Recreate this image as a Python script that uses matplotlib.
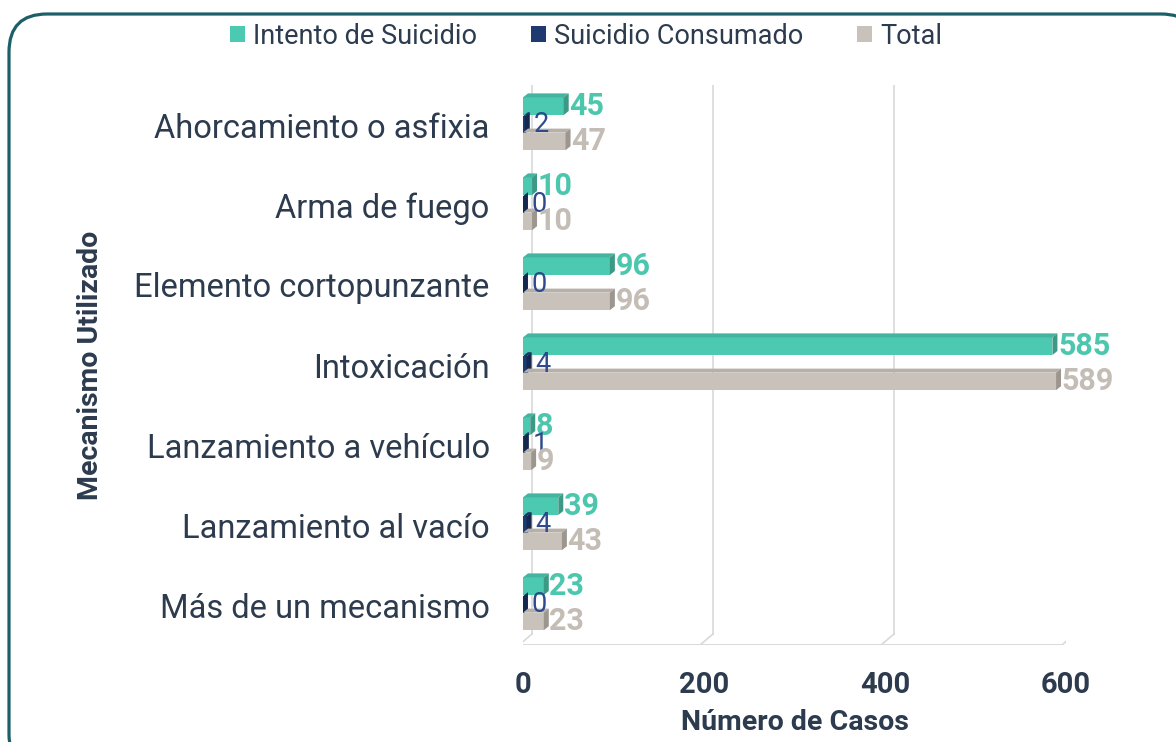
import matplotlib
matplotlib.use("Agg")
import matplotlib.pyplot as plt
from matplotlib.patches import Polygon, FancyBboxPatch, Patch
from matplotlib.transforms import offset_copy
import numpy as np

plt.rcParams['font.family'] = ['Roboto', 'DejaVu Sans']

mecanismos = ["Ahorcamiento o asfixia", "Arma de fuego", "Elemento cortopunzante",
              "Intoxicación", "Lanzamiento a vehículo", "Lanzamiento al vacío",
              "Más de un mecanismo"]
intento = [45, 10, 96, 585, 8, 39, 23]
consumado = [2, 0, 0, 4, 1, 4, 0]
total = [47, 10, 96, 589, 9, 43, 23]
series_names = ["Intento de Suicidio", "Suicidio Consumado", "Total"]
xticks = [0, 200, 400, 600]

# front, top, side colours per series, and value-label colour
colores = [
    ("#4cc9b1", "#45b49e", "#3b9a86", "#4cc7ae"),
    ("#1f3a70", "#1a3160", "#15284f", "#2e4a8c"),
    ("#c9c2bb", "#b7b0a9", "#9d968f", "#c4bdb6"),
]
texto = "#2d3b4e"

W, H = 1176, 742
fig = plt.figure(figsize=(W / 100, H / 100), dpi=100)

# rounded frame (inches)
frame = FancyBboxPatch((0.09, -0.3), 11.9, 7.58,
                       boxstyle="round,pad=0,rounding_size=0.38",
                       transform=fig.dpi_scale_trans, facecolor="white",
                       edgecolor="#1d5f68", linewidth=2.3, zorder=-5)
fig.patches.append(frame)

ax = fig.add_axes([523 / W, 97 / H, 543 / W, 560 / H])
ax.set_xlim(0, 600)
ax.set_ylim(len(mecanismos) - 0.5, -0.5)
ax.patch.set_visible(False)
for s in ax.spines.values():
    s.set_visible(False)

# walls of the pseudo 3D box
grid_c = "#d9d9d9"
front = offset_copy(ax.transData, fig, x=-4, y=0, units='dots')
back = offset_copy(ax.transData, fig, x=9, y=11, units='dots')
ybot, ytop = len(mecanismos) - 0.5, -0.5
for xt in xticks:
    ax.plot([xt, xt], [ybot, ytop], color=grid_c, lw=1.2, transform=back, zorder=0)
    p0 = front.transform((xt, ybot))
    p1 = back.transform((xt, ybot))
    ax.plot([p0[0], p1[0]], [p0[1], p1[1]], color=grid_c, lw=1.2,
            transform=None, zorder=0)
ax.plot([0, 600], [ybot, ybot], color=grid_c, lw=1.4, transform=front, zorder=0)
ax.plot([0, 0], [ybot, ytop], color=grid_c, lw=1.2, transform=front, zorder=0)
p0 = front.transform((0, ytop))
p1 = back.transform((0, ytop))
ax.plot([p0[0], p1[0]], [p0[1], p1[1]], color=grid_c, lw=1.2, transform=None, zorder=0)

# bars with depth
ddx = 5.5      # depth in data units (x)
ddy = -0.05    # depth in data units (y, inverted axis)
h = 0.22
offsets = [-0.235, 0.0, 0.205]
y = np.arange(len(mecanismos))
for k, vals in enumerate([intento, consumado, total]):
    fc, tc, sc, lc = colores[k]
    for i, v in enumerate(vals):
        yc = y[i] + offsets[k]
        top, bot = yc - h / 2, yc + h / 2
        ax.barh(yc, v, height=h, color=fc, zorder=2 + k)
        ax.add_patch(Polygon([(0, top), (v, top), (v + ddx, top + ddy), (ddx, top + ddy)],
                             closed=True, facecolor=tc, edgecolor='none', zorder=2 + k))
        ax.add_patch(Polygon([(v, top), (v, bot), (v + ddx, bot + ddy), (v + ddx, top + ddy)],
                             closed=True, facecolor=sc, edgecolor='none', zorder=2 + k))
        ax.annotate(str(v), (v + ddx, yc), xytext=(2.5 if k == 1 else 0.5, 0),
                    textcoords='offset points', va='center', ha='left', color=lc,
                    fontsize=19.5 if k == 1 else 22,
                    fontweight='normal' if k == 1 else 'bold', zorder=10)

ax.set_yticks(y)
ax.set_yticklabels(mecanismos, fontsize=23.5, color=texto)
ax.set_xticks(xticks)
ax.set_xticklabels([str(t) for t in xticks], fontsize=21, fontweight='bold', color=texto)
ax.tick_params(axis='y', length=0, pad=24)
ax.tick_params(axis='x', length=0, pad=19)
ax.set_xlabel("Número de Casos", fontsize=20.5, fontweight='bold', color=texto, labelpad=7)
ax.set_ylabel("Mecanismo Utilizado", fontsize=20.5, fontweight='bold', color=texto, labelpad=22)

handles = [Patch(facecolor=colores[k][0], edgecolor='none') for k in range(3)]
fig.legend(handles, series_names, loc='center', bbox_to_anchor=(586 / W, 1 - 36 / H),
           ncol=3, frameon=False, fontsize=19.5, handlelength=0.55, handleheight=0.55,
           handletextpad=0.3, columnspacing=2.0, labelcolor=texto)

fig.savefig("out.png", dpi=100)
